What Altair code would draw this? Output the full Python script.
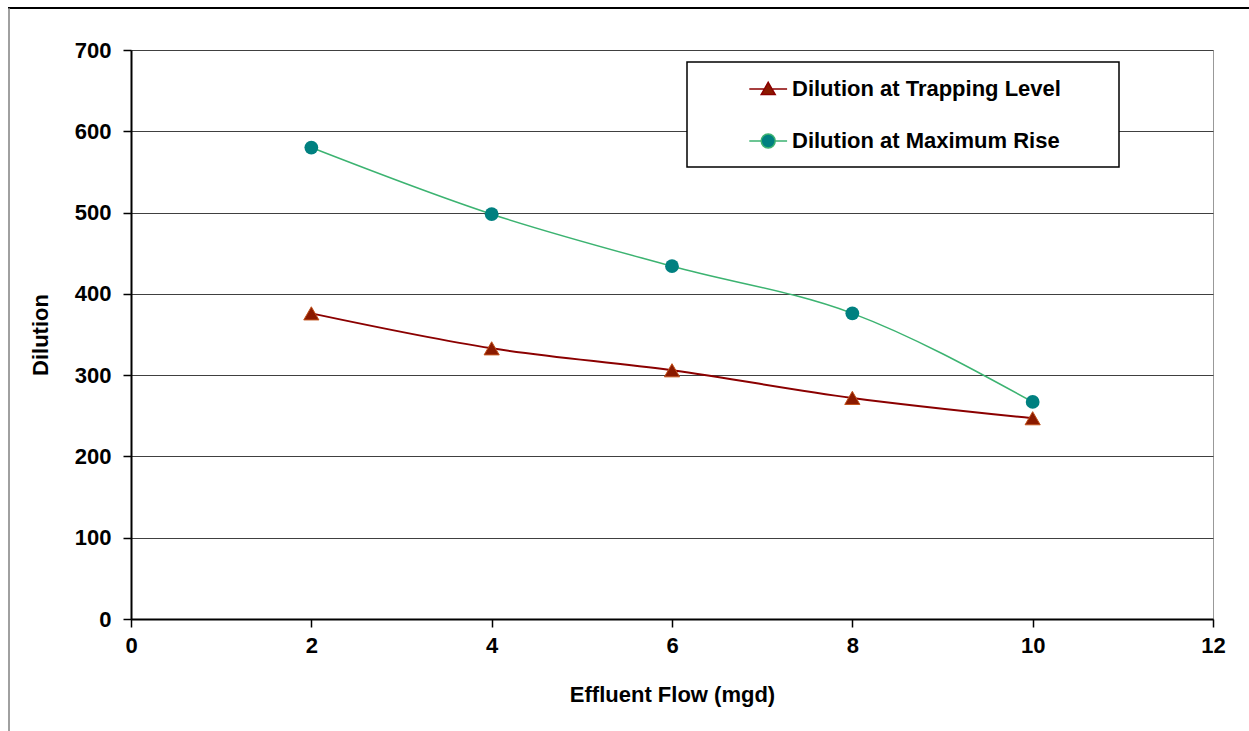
import altair as alt
import pandas as pd

# ---- data ----
flow = [2, 4, 6, 8, 10]
trapping = [376, 333, 306, 272, 247]
max_rise = [580, 498, 434, 376, 267]
series_names = ["Dilution at Trapping Level", "Dilution at Maximum Rise"]
x_ticks = [0, 2, 4, 6, 8, 10, 12]
y_ticks = [0, 100, 200, 300, 400, 500, 600, 700]

rows = []
for f, v in zip(flow, trapping):
    rows.append({"flow": f, "dilution": v, "series": series_names[0]})
for f, v in zip(flow, max_rise):
    rows.append({"flow": f, "dilution": v, "series": series_names[1]})
df = pd.DataFrame(rows)

FONT = "Liberation Sans"
RED_LINE = "#8B0000"
RED_FILL = "#8B1A00"
RED_EDGE = "#C0501A"
GREEN_LINE = "#3CB371"
TEAL = "#008080"

x_enc = alt.X(
    "flow:Q",
    scale=alt.Scale(domain=[0, 12], nice=False, zero=False),
    axis=alt.Axis(
        values=x_ticks, format="d", title="Effluent Flow (mgd)", grid=False, labelFlush=False,
        titleY=75, titleBaseline="middle", labelPadding=8,
    ),
)
y_enc = alt.Y(
    "dilution:Q",
    scale=alt.Scale(domain=[0, 700], nice=False),
    axis=alt.Axis(
        values=y_ticks, format="d", title="Dilution", grid=True, labelPadding=12,
        titleX=-91, titleY=284.5, titleAngle=270, titleAlign="center", titleBaseline="middle",
    ),
)

base = alt.Chart(df)

line_trap = base.transform_filter(alt.datum.series == series_names[0]).mark_line(
    color=RED_LINE, strokeWidth=2, interpolate="monotone"
).encode(x=x_enc, y=y_enc)

line_max = base.transform_filter(alt.datum.series == series_names[1]).mark_line(
    color=GREEN_LINE, strokeWidth=1.5, interpolate="monotone"
).encode(x="flow:Q", y="dilution:Q")

pts_trap = base.transform_filter(alt.datum.series == series_names[0]).mark_point(
    shape="triangle-up", filled=True, fill=RED_FILL, stroke=RED_EDGE, strokeWidth=1,
    size=230, opacity=1,
).encode(x="flow:Q", y="dilution:Q")

pts_max = base.transform_filter(alt.datum.series == series_names[1]).mark_point(
    shape="circle", filled=True, fill=TEAL, size=190, opacity=1, strokeWidth=0,
).encode(x="flow:Q", y="dilution:Q")

# legend box (decoration)
one = alt.InlineData(values=[{"k": 1}])
legend_box = alt.Chart(one).mark_rect(fill="white", stroke="black", strokeWidth=1.5).encode(
    x=alt.value(556), x2=alt.value(988), y=alt.value(12), y2=alt.value(117)
)

tri_path = "M4.9,0H7.07M8.13,0H10.3M7.6,-0.95L8.6,0.8L6.6,0.8Z"
circ_path = "M4.9,0H6.6M8.6,0H10.3M8.6,0A1,1 0 1,1 6.6,0A1,1 0 1,1 8.6,0Z"

leg = alt.Legend(
    title=None, orient="none", legendX=573, legendY=28, padding=0,
    symbolSize=196, symbolStrokeWidth=1.5, symbolOpacity=1,
    labelOffset=66, rowPadding=30, labelLimit=0,
    labelFont=FONT, labelFontSize=22, labelFontWeight="bold", labelColor="black",
)

legend_layer = base.mark_point(filled=True, opacity=0, size=196).encode(
    x="flow:Q",
    y="dilution:Q",
    shape=alt.Shape("series:N", scale=alt.Scale(domain=series_names, range=[tri_path, circ_path]), legend=leg),
    fill=alt.Fill("series:N", scale=alt.Scale(domain=series_names, range=[RED_FILL, TEAL]), legend=leg),
    stroke=alt.Stroke("series:N", scale=alt.Scale(domain=series_names, range=[RED_LINE, GREEN_LINE]), legend=leg),
)

border_top = alt.Chart(one).mark_rule(color="black", strokeWidth=2).encode(
    x=alt.value(-123), x2=alt.value(1118), y=alt.value(-42)
)
border_left = alt.Chart(one).mark_rule(color="#808080", strokeWidth=1.5).encode(
    x=alt.value(-122), y=alt.value(-42), y2=alt.value(681)
)

chart = alt.layer(
    line_trap, line_max, pts_trap, pts_max, legend_box, legend_layer, border_top, border_left
).properties(
    width=1082,
    height=569,
    padding={"left": 131, "top": 50, "right": 36, "bottom": 112},
    autosize=alt.AutoSizeParams(type="none"),
    background="white",
).configure_view(
    stroke="#999999", strokeWidth=1
).configure_axis(
    labelFont=FONT, labelFontSize=22, labelFontWeight="bold", labelColor="black",
    titleFont=FONT, titleFontSize=22, titleFontWeight="bold", titleColor="black",
    domainColor="black", domainWidth=2,
    tickColor="black", tickWidth=1.5, tickSize=8,
    gridColor="#404040", gridWidth=1,
)

chart.save("out.html", embed_options={"renderer": "svg", "actions": False})
